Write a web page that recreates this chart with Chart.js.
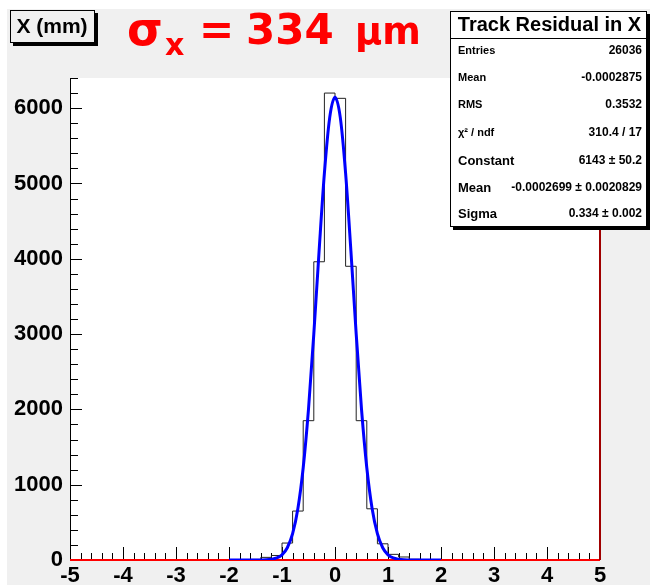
<!DOCTYPE html>
<html>
<head>
<meta charset="utf-8">
<script src="https://cdn.jsdelivr.net/npm/chart.js@4.4.1/dist/chart.umd.min.js"></script>
<style>
  body { margin: 0; background: #fff; }
  #wrap { position: relative; width: 650px; height: 585px; }
</style>
</head>
<body>
<div id="wrap"><canvas id="resChart" width="650" height="585"></canvas></div>
<script>
/* DATA */
const binWidth = 0.2
const binLow = [-1.8, -1.6, -1.4, -1.2, -1.0, -0.8, -0.6, -0.4, -0.2, 0.0, 0.2, 0.4, 0.6, 0.8, 1.0, 1.2, 1.4, 1.6]
const binCounts = [3, 8, 35, 60, 225, 650, 1850, 3960, 6200, 6130, 3900, 1850, 680, 215, 75, 40, 10, 4]

// gaussian fit curve, sampled by eye
const fitX = [-2.0, -1.5, -1.4, -1.3, -1.2, -1.1, -1.0, -0.9, -0.8, -0.7, -0.6, -0.5, -0.4, -0.3, -0.2, -0.1, 0.0,
              0.1, 0.2, 0.3, 0.4, 0.5, 0.6, 0.7, 0.8, 0.9, 1.0, 1.1, 1.2, 1.3, 1.4, 1.5, 2.0]
const fitY = [0, 0, 1, 3, 10, 27, 69, 163, 349, 684, 1225, 2003, 2999, 4105, 5136, 5874, 6143,
              5874, 5136, 4105, 2999, 2003, 1225, 684, 349, 163, 69, 27, 10, 3, 1, 0, 0]

const xTicks = [-5, -4, -3, -2, -1, 0, 1, 2, 3, 4, 5]
const yTicks = [0, 1000, 2000, 3000, 4000, 5000, 6000]
const yMax = 6400

const statsTitle = 'Track Residual in X'
const statsRows = [
    ['Entries', '26036'],
    ['Mean', '-0.0002875'],
    ['RMS', '0.3532'],
    ['\u03C7\u00B2 / ndf', '310.4 / 17'],
    ['Constant', '6143 \u00B1 50.2'],
    ['Mean', '-0.0002699 \u00B1 0.0020829'],
    ['Sigma', '0.334 \u00B1 0.002']
]

/* build step outline from bins */
const histPts = [{x: xTicks[0], y: 0}]
binLow.forEach((lo, i) => histPts.push({x: lo, y: binCounts[i]}))
histPts.push({x: binLow[binLow.length - 1] + binWidth, y: 0})
histPts.push({x: xTicks[xTicks.length - 1], y: 0})

const fitPts = fitX.map((x, i) => ({x: x, y: fitY[i]}))

const GRAY = '#f0f0f0'
const FONT = "'Liberation Sans', Arial, sans-serif"

/*BACKGROUND + FRAME*/
const rootFrame = {
    id: 'rootFrame',
    beforeDraw(chart){
        const c = chart.ctx, a = chart.chartArea
        c.save()
        c.fillStyle = GRAY
        c.fillRect(7, 9, chart.width - 7, chart.height - 9)
        c.fillStyle = '#fff'
        c.fillRect(a.left, a.top, a.right - a.left, a.bottom - a.top)
        c.restore()
    },
    beforeDatasetsDraw(chart){
        // inward tick marks like ROOT
        const c = chart.ctx, a = chart.chartArea
        const xs = chart.scales.x, ys = chart.scales.y
        c.save()
        c.strokeStyle = '#000'
        c.lineWidth = 1
        c.beginPath()
        for(let i = 0; i < xTicks.length; i++){
            for(let k = 0; k < 5; k++){
                const v = xTicks[i] + k * binWidth
                if(v > xTicks[xTicks.length - 1] + 1e-9) break
                const px = Math.round(xs.getPixelForValue(v)) + 0.5
                const len = k === 0 ? 13 : 7
                c.moveTo(px, a.bottom)
                c.lineTo(px, a.bottom - len)
            }
        }
        for(let v = 0; v <= yMax + 1e-9; v += 200){
            const py = Math.round(ys.getPixelForValue(v)) + 0.5
            const len = v % 1000 === 0 ? 12 : 8
            c.moveTo(a.left, py)
            c.lineTo(a.left + len, py)
        }
        c.stroke()
        c.restore()
    },
    afterDatasetDraw(chart, args){
        // red x axis goes above the histogram but under the fit
        if(chart.data.datasets[args.index].label !== 'hist') return
        const c = chart.ctx, a = chart.chartArea
        c.save()
        c.strokeStyle = '#ff0000'
        c.lineWidth = 2
        c.beginPath()
        c.moveTo(a.left, a.bottom)
        c.lineTo(a.right, a.bottom)
        c.stroke()
        c.strokeStyle = '#a00000'
        c.beginPath()
        c.moveTo(a.right, a.top)
        c.lineTo(a.right, a.bottom)
        c.stroke()
        c.restore()
    },
    afterDraw(chart){
        const c = chart.ctx
        c.save()

        // "X (mm)" box
        c.fillStyle = '#000'
        c.fillRect(13, 13, 85, 33)
        c.fillStyle = GRAY
        c.fillRect(10, 10, 85, 33)
        c.strokeStyle = '#000'
        c.lineWidth = 1
        c.strokeRect(10.5, 10.5, 84, 32)
        c.fillStyle = '#000'
        c.font = 'bold 21px ' + FONT
        c.textBaseline = 'middle'
        c.textAlign = 'center'
        c.fillText('X (mm)', 52, 27)

        // red sigma label
        c.fillStyle = '#ff0000'
        c.textAlign = 'left'
        c.textBaseline = 'alphabetic'
        c.font = "bold 46px 'DejaVu Sans', sans-serif"
        c.fillText('\u03C3', 127, 45)
        c.font = "bold 30px 'DejaVu Sans', sans-serif"
        c.fillText('x', 165, 55)
        c.font = "bold 42px 'DejaVu Sans', sans-serif"
        c.fillText('=', 199, 44)
        c.fillText('334', 246, 44)
        c.font = "bold 37px 'DejaVu Sans', sans-serif"
        c.fillText('\u03BCm', 355, 44)

        // stats box
        const bx = 450, by = 11, bw = 197, bh = 216
        c.fillStyle = '#000'
        c.fillRect(bx + 3, by + 3, bw, bh)
        c.fillStyle = '#fff'
        c.fillRect(bx, by, bw, bh)
        c.strokeStyle = '#000'
        c.strokeRect(bx + 0.5, by + 0.5, bw - 1, bh - 1)
        c.beginPath()
        c.moveTo(bx, 38.5)
        c.lineTo(bx + bw, 38.5)
        c.stroke()

        c.fillStyle = '#000'
        c.textBaseline = 'middle'
        c.textAlign = 'center'
        c.font = 'bold 20px ' + FONT
        c.fillText(statsTitle, bx + bw / 2 + 1, 25)

        const rowY = [51, 78, 105, 133, 161, 188, 214]
        statsRows.forEach((r, i) => {
            const sz = i < 4 ? 11 : 13
            c.font = 'bold ' + sz + 'px ' + FONT
            c.textAlign = 'left'
            c.fillText(r[0], bx + 8, rowY[i])
            c.font = 'bold 12px ' + FONT
            c.textAlign = 'right'
            c.fillText(r[1], bx + bw - 5, rowY[i])
        })
        c.restore()
    }
}

/*CHART*/
const ctx = document.getElementById('resChart').getContext('2d')
const resChart = new Chart(ctx, {
    type: 'line',
    data: {
        datasets: [{
            label: 'hist',
            data: histPts,
            stepped: 'before',
            borderColor: '#222',
            borderWidth: 1,
            pointRadius: 0,
            fill: false,
            order: 2
        },{
            label: 'fit',
            data: fitPts,
            borderColor: '#0000ff',
            borderWidth: 3,
            pointRadius: 0,
            cubicInterpolationMode: 'monotone',
            fill: false,
            order: 1
        }]
    },
    options: {
        responsive: false,
        animation: false,
        layout: { padding: { left: 0, right: 50, top: 78, bottom: 0 } },
        plugins: {
            legend: { display: false },
            tooltip: { enabled: false }
        },
        scales: {
            x: {
                type: 'linear',
                min: xTicks[0],
                max: xTicks[xTicks.length - 1],
                afterFit: s => { s.height = 25 },
                afterBuildTicks: s => { s.ticks = xTicks.map(v => ({value: v})) },
                grid: { display: false, drawTicks: false },
                border: { display: false },
                ticks: {
                    padding: 3,
                    color: '#000',
                    font: { family: FONT, size: 22, weight: 'bold' },
                    maxRotation: 0,
                    autoSkip: false,
                    callback: v => String(v)
                }
            },
            y: {
                min: 0,
                max: yMax,
                afterFit: s => { s.width = 70 },
                afterBuildTicks: s => { s.ticks = yTicks.map(v => ({value: v})) },
                grid: { display: false, drawTicks: false },
                border: { display: true, color: '#000', width: 1 },
                ticks: {
                    padding: 7,
                    color: '#000',
                    font: { family: FONT, size: 22, weight: 'bold' },
                    callback: v => String(v)
                }
            }
        }
    },
    plugins: [rootFrame]
})
</script>
</body>
</html>
